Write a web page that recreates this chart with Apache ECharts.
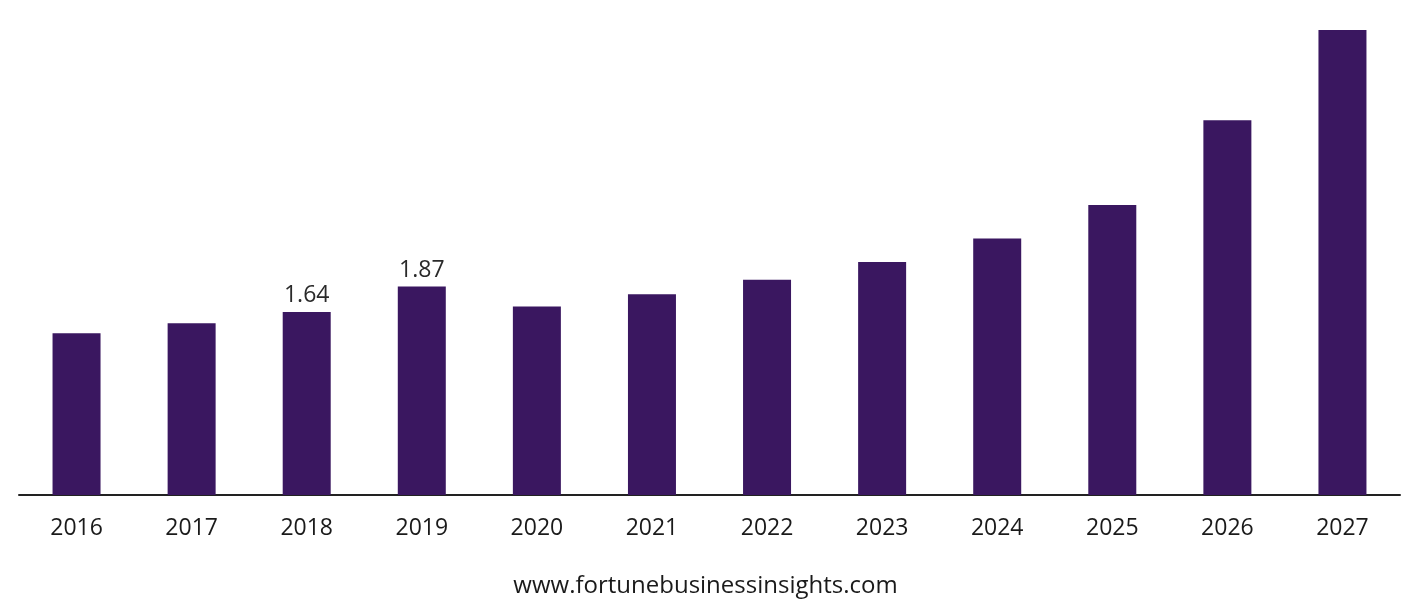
<!DOCTYPE html>
<html>
<head>
    <meta charset="UTF-8">
    <title>Market size</title>
    <script src="https://cdn.jsdelivr.net/npm/echarts@6/dist/echarts.min.js"></script>
    <style>
        html, body { margin: 0; padding: 0; background: #fff; }
        #main { width: 1411px; height: 612px; }
    </style>
</head>
<body>
<div id="main"></div>
<script>
    var years = ['2016', '2017', '2018', '2019', '2020', '2021', '2022', '2023', '2024', '2025', '2026', '2027'];
    var values = [1.45, 1.54, 1.64, 1.87, 1.69, 1.80, 1.93, 2.09, 2.30, 2.60, 3.36, 4.17];
    var labelledYears = ['2018', '2019'];

    var chart = echarts.init(document.getElementById('main'));
    var barData = values.map(function (v, i) {
        return {
            value: v,
            label: { show: labelledYears.indexOf(years[i]) >= 0 }
        };
    });

    chart.setOption({
        animation: false,
        textStyle: { fontFamily: 'Open Sans' },
        grid: { left: 19, right: 11, top: 30, bottom: 117 },
        xAxis: {
            type: 'category',
            data: years,
            axisLine: { lineStyle: { color: '#222', width: 2 } },
            axisTick: { show: false },
            axisLabel: { color: '#1a1a1a', fontSize: 23, margin: 22, fontFamily: 'Open Sans' }
        },
        yAxis: {
            type: 'value',
            min: 0,
            max: 4.17,
            show: false,
            splitLine: { show: false }
        },
        series: [{
            type: 'bar',
            data: barData,
            barWidth: 48,
            itemStyle: { color: '#3a1760' },
            label: {
                position: 'top',
                distance: 5,
                color: '#2a2a2a',
                fontSize: 23,
                fontFamily: 'Open Sans'
            }
        }],
        graphic: [{
            type: 'text',
            left: 'center',
            top: 574,
            style: {
                text: 'www.fortunebusinessinsights.com',
                fill: '#1a1a1a',
                font: '24px "Open Sans"'
            }
        }]
    });
</script>
</body>
</html>
